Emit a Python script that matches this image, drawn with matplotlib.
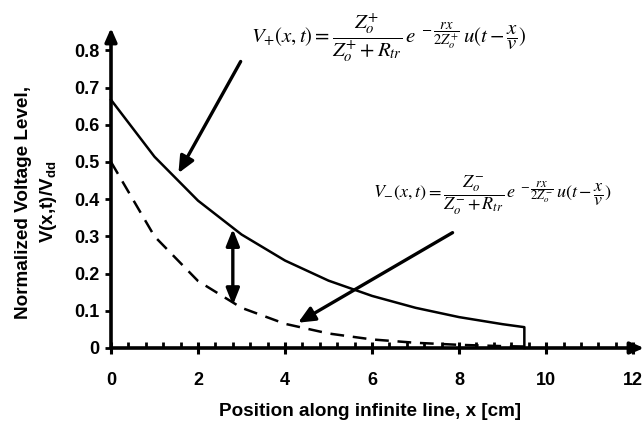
import matplotlib
matplotlib.use("Agg")
import matplotlib.pyplot as plt
import numpy as np

plt.rcParams['font.family'] = 'Liberation Sans'
plt.rcParams['mathtext.fontset'] = 'custom'
plt.rcParams['mathtext.rm'] = 'Liberation Sans:bold'
plt.rcParams['mathtext.bf'] = 'Liberation Sans:bold'
plt.rcParams['mathtext.it'] = 'Liberation Sans:bold'

# position along the line [cm]
x_pos = [0, 1, 2, 3, 4, 5, 6, 7, 8, 9, 9.5]
# forward wave V+ (solid) and V- (dashed), normalized to Vdd
v_plus = [0.667, 0.514, 0.396, 0.305, 0.235, 0.181, 0.140, 0.108, 0.083, 0.064, 0.056]
v_minus = [0.50, 0.30, 0.18, 0.108, 0.065, 0.039, 0.023, 0.014, 0.0085, 0.005, 0.004]

x_ticks = [0, 2, 4, 6, 8, 10, 12]
y_ticks = [0, 0.1, 0.2, 0.3, 0.4, 0.5, 0.6, 0.7, 0.8]

fig = plt.figure(figsize=(6.44, 4.28), dpi=100)
ax = fig.add_axes([111 / 644, 80 / 428, 533 / 644, 320 / 428])
ax.set_xlim(0, 12.25)
ax.set_ylim(0, 0.86)

for s in ax.spines.values():
    s.set_visible(False)

# solid curve drops to zero at the end of the line
ax.plot(x_pos + [x_pos[-1]], v_plus + [0], color='black', lw=1.8, clip_on=False)
ax.plot(x_pos, v_minus, color='black', lw=1.8, linestyle=(0, (5.5, 3.5)), clip_on=False)

# axes with arrow heads
axis_kw = dict(arrowstyle='-|>,head_length=0.8,head_width=0.35', color='black', lw=2.6,
               shrinkA=0, shrinkB=0)
ax.annotate('', xy=(12.25, 0), xytext=(0, 0), arrowprops=axis_kw, annotation_clip=False)
ax.annotate('', xy=(0, 0.86), xytext=(0, 0), arrowprops=axis_kw, annotation_clip=False)

ax.set_xticks(x_ticks)
ax.set_xticklabels([str(v) for v in x_ticks])
ax.set_xticks(np.arange(0.4, 12, 0.4), minor=True)
ax.tick_params(axis='x', which='major', direction='inout', length=9, width=2.2, labelsize=13, pad=13)
ax.tick_params(axis='x', which='minor', direction='in', length=4.5, width=2)
ax.set_yticks(y_ticks)
ax.set_yticklabels(['0'] + ['%.1f' % v for v in y_ticks[1:]])
ax.tick_params(axis='y', direction='out', length=4.5, width=2, labelsize=13, pad=4)
for lab in ax.get_xticklabels() + ax.get_yticklabels():
    lab.set_fontweight('bold')

fig.text(370 / 644, 1 - 411 / 428, 'Position along infinite line, x [cm]', ha='center', va='center',
         fontsize=13.6, fontweight='bold')
fig.text(37 / 644, 1 - 202 / 428, 'Normalized Voltage Level,\nV(x,t)/V$_{dd}$', ha='center', va='center',
         rotation=90, fontsize=13.6, fontweight='bold', linespacing=1.4)

# pointer arrows
arrow_kw = dict(arrowstyle='-|>,head_length=1.0,head_width=0.45', color='black', lw=2.4,
                shrinkA=0, shrinkB=0)
ax.annotate('', xy=(1.55, 0.47), xytext=(2.98, 0.77), arrowprops=arrow_kw)
ax.annotate('', xy=(4.3, 0.068), xytext=(7.85, 0.31), arrowprops=arrow_kw)
ax.annotate('', xy=(2.8, 0.32), xytext=(2.8, 0.115),
            arrowprops=dict(arrowstyle='<|-|>,head_length=1.0,head_width=0.4', color='black', lw=2.4,
                            shrinkA=0, shrinkB=0))

eq1 = (r"$V_{+}(x,t) = \dfrac{Z_o^{+}}{Z_o^{+}+R_{tr}}\,e^{\;-\dfrac{rx}{2Z_o^{+}}}"
       r"\,u(t-\dfrac{x}{v})$")
eq2 = (r"$V_{-}(x,t) = \dfrac{Z_o^{-}}{Z_o^{-}+R_{tr}}\,e^{\;-\dfrac{rx}{2Z_o^{-}}}"
       r"\,u(t-\dfrac{x}{v})$")
fig.text(251 / 644, 1 - 38 / 428, eq1, ha='left', va='center', fontsize=15,
         math_fontfamily='stix', fontweight='normal')
fig.text(373 / 644, 1 - 195 / 428, eq2, ha='left', va='center', fontsize=13,
         math_fontfamily='stix', fontweight='normal')

fig.savefig('out.png', dpi=100)
